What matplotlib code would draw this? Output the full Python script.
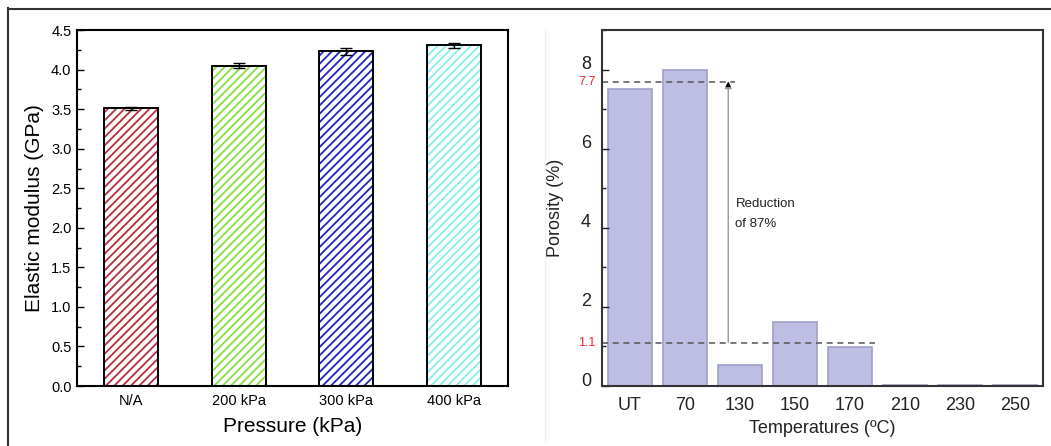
import matplotlib.pyplot as plt
from matplotlib.lines import Line2D
from matplotlib.ticker import MultipleLocator
import matplotlib.transforms as mtransforms
import numpy as np

plt.rcParams['font.family'] = ['Liberation Sans', 'DejaVu Sans']
plt.rcParams['hatch.linewidth'] = 1.3

# left panel: elastic modulus vs pressure
pressures = ["N/A", "200 kPa", "300 kPa", "400 kPa"]
modulus = [3.51, 4.05, 4.23, 4.31]
modulus_err = [0.02, 0.03, 0.05, 0.03]
hatch_colors = ["#B5303C", "#84E040", "#2424C4", "#86EEEE"]

# right panel: porosity vs temperature
temps = ["UT", "70", "130", "150", "170", "210", "230", "250"]
porosity = [7.52, 8.0, 0.53, 1.62, 0.99, 0.02, 0.02, 0.02]
ref_high = 7.7
ref_low = 1.1
note = "Reduction\nof 87%"

fig = plt.figure(figsize=(10.51, 4.46), dpi=100)

# ---- left chart ----
ax1 = fig.add_axes([0.0733, 0.1345, 0.410, 0.798])
x1 = np.arange(len(pressures))
ax1.bar(x1, modulus, width=0.5, color="white", edgecolor=hatch_colors,
        hatch="////", linewidth=0)
ax1.bar(x1, modulus, width=0.5, fill=False, edgecolor="black", linewidth=1.4)
ax1.errorbar(x1, modulus, yerr=modulus_err, fmt="none", ecolor="black",
             elinewidth=1, capsize=4, capthick=1)
ax1.set_xlim(-0.5, 3.5)
ax1.set_ylim(0, 4.5)
ax1.set_xticks(x1)
ax1.set_xticklabels(pressures)
ax1.yaxis.set_major_locator(MultipleLocator(0.5))
ax1.yaxis.set_minor_locator(MultipleLocator(0.25))
ax1.yaxis.set_major_formatter(plt.FormatStrFormatter("%.1f"))
ax1.tick_params(axis="y", which="major", direction="in", length=5, width=1,
                labelsize=10.5, pad=4)
ax1.tick_params(axis="y", which="minor", direction="in", length=3, width=1)
ax1.tick_params(axis="x", length=0, labelsize=10.5, pad=6)
for s in ax1.spines.values():
    s.set_linewidth(1.5)
ax1.set_ylabel("Elastic modulus (GPa)", fontsize=15, labelpad=5)
ax1.set_xlabel("Pressure (kPa)", fontsize=15, labelpad=6)

# ---- right chart ----
txt = "#222222"
ax2 = fig.add_axes([0.5728, 0.1345, 0.4196, 0.798])
x2 = np.arange(len(temps))
ax2.bar(x2, porosity, width=0.8, color="#BEBDE4", edgecolor="#A09FC6",
        linewidth=1.2)
ax2.set_xlim(-0.5, 7.5)
ax2.set_ylim(0, 9)
ax2.set_xticks(x2)
ax2.set_xticklabels(temps)
ax2.yaxis.set_major_locator(MultipleLocator(2))
ax2.yaxis.set_minor_locator(MultipleLocator(1))
ax2.tick_params(axis="y", which="major", direction="in", length=5, width=1,
                labelsize=13, colors=txt, pad=8)
ax2.tick_params(axis="y", which="minor", direction="in", length=3, width=1,
                colors=txt)
ax2.tick_params(axis="x", length=0, labelsize=13, colors=txt, pad=8)
# y tick labels sit a little above their ticks in the original
shift = mtransforms.ScaledTranslation(0, 7 / 100, fig.dpi_scale_trans)
for lab in ax2.get_yticklabels():
    lab.set_transform(lab.get_transform() + shift)
for s in ax2.spines.values():
    s.set_linewidth(1.5)
    s.set_color("#333333")
ax2.set_ylabel("Porosity (%)", fontsize=13, color=txt, labelpad=12)
ax2.set_xlabel("Temperatures (ºC)", fontsize=13, color=txt, labelpad=4)

# reference lines and arrow
ax2.plot([-0.5, 1.92], [ref_high, ref_high], ls=(0, (4, 3)), color="#555555",
         lw=1.1)
ax2.plot([-0.5, 4.45], [ref_low, ref_low], ls=(0, (4, 3)), color="#555555",
         lw=1.1)
ax2.annotate("", xy=(1.79, ref_high), xytext=(1.79, ref_low),
             arrowprops=dict(arrowstyle="-|>", color="#999999", lw=1,
                             mutation_scale=10, shrinkA=0, shrinkB=0))
ax2.annotate("", xy=(1.79, ref_high), xytext=(1.79, ref_high - 0.4),
             arrowprops=dict(arrowstyle="-|>", color="black", lw=0,
                             mutation_scale=10, shrinkA=0, shrinkB=0))
ax2.text(1.92, 4.35, note, fontsize=9.5, color=txt, va="center", ha="left",
         linespacing=1.9)
trans = ax2.get_yaxis_transform()
ax2.text(-0.014, ref_high, f"{ref_high}", transform=trans, color="#E8262E",
         fontsize=9, ha="right", va="center")
ax2.text(-0.014, ref_low, f"{ref_low}", transform=trans, color="#E8262E",
         fontsize=9, ha="right", va="center")

# outer frame lines
fig.add_artist(Line2D([8 / 1051, 8 / 1051], [0, 1 - 8 / 446],
                      transform=fig.transFigure, color="#333333", lw=1.5))
fig.add_artist(Line2D([8 / 1051, 1], [1 - 8.5 / 446, 1 - 8.5 / 446],
                      transform=fig.transFigure, color="#333333", lw=1.5))
fig.add_artist(Line2D([545 / 1051, 545 / 1051], [0.01, 1 - 30 / 446],
                      transform=fig.transFigure, color="#F0F0F0", lw=1))

fig.savefig("out.png", dpi=100)
